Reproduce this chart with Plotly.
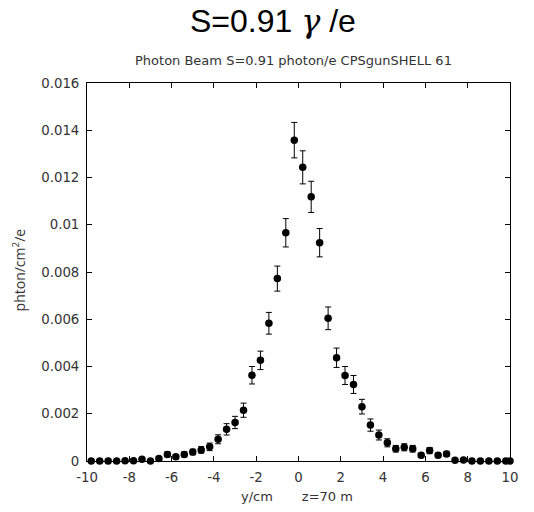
import plotly.graph_objects as go

# bin centres (cm)
y_cm = [-9.8, -9.4, -9.0, -8.6, -8.2, -7.8, -7.4, -7.0, -6.6, -6.2,
        -5.8, -5.4, -5.0, -4.6, -4.2, -3.8, -3.4, -3.0, -2.6, -2.2,
        -1.8, -1.4, -1.0, -0.6, -0.2, 0.2, 0.6, 1.0, 1.4, 1.8,
        2.2, 2.6, 3.0, 3.4, 3.8, 4.2, 4.6, 5.0, 5.4, 5.8,
        6.2, 6.6, 7.0, 7.4, 7.8, 8.2, 8.6, 9.0, 9.4, 9.8, 10.0]

flux = [0.0, 0.0, 0.0, 0.0, 0.00001, 0.00001, 0.00007, 0.0, 0.00011, 0.00028,
        0.00018, 0.00028, 0.00038, 0.00047, 0.0006, 0.00092, 0.00134, 0.00163, 0.00215, 0.00363,
        0.00426, 0.00583, 0.00772, 0.00966, 0.01358, 0.01243, 0.01118, 0.00924, 0.00604, 0.00437,
        0.00362, 0.00324, 0.0023, 0.00152, 0.0011, 0.00077, 0.00052, 0.00058, 0.00052, 0.00024,
        0.00044, 0.00024, 0.0003, 0.00003, 0.00004, 0.0, 0.0, 0.0, 0.0, 0.0, 0.0]

flux_err = [0.0, 0.0, 0.0, 0.0, 0.00002, 0.00002, 0.00005, 0.0, 0.00007, 0.00011,
            0.00009, 0.00011, 0.00012, 0.00014, 0.00016, 0.00019, 0.00024, 0.00026, 0.0003, 0.00037,
            0.00039, 0.00046, 0.00053, 0.0006, 0.00075, 0.0007, 0.00066, 0.0006, 0.00048, 0.00041,
            0.00038, 0.00038, 0.00031, 0.00026, 0.00021, 0.00017, 0.00014, 0.00015, 0.00014, 0.0001,
            0.00013, 0.0001, 0.00011, 0.00003, 0.00004, 0.0, 0.0, 0.0, 0.0, 0.0, 0.0]

x_ticks = [-10, -8, -6, -4, -2, 0, 2, 4, 6, 8, 10]
x_tick_text = ["-10", "-8", "-6", "-4", "-2", "0", "2", "4", "6", "8", "10"]
y_ticks = [0, 0.002, 0.004, 0.006, 0.008, 0.01, 0.012, 0.014, 0.016]
y_tick_text = ["0", "0.002", "0.004", "0.006", "0.008", "0.01", "0.012", "0.014", "0.016"]

fig = go.Figure()
fig.add_trace(go.Scatter(
    x=y_cm, y=flux, mode="markers",
    marker=dict(color="black", size=7.5, symbol="circle"),
    error_y=dict(type="data", array=flux_err, color="black", thickness=1, width=3),
    cliponaxis=False, showlegend=False,
))

tickfont = dict(family="DejaVu Sans", size=13.3, color="#333333")
axis_common = dict(
    showline=True, linecolor="black", linewidth=1, mirror="ticks",
    ticks="inside", ticklen=5, tickcolor="black", tickwidth=1,
    showgrid=False, zeroline=False, tickfont=tickfont,
)

fig.update_layout(
    width=534, height=512,
    margin=dict(l=87, r=24, t=83, b=51),
    paper_bgcolor="white", plot_bgcolor="white",
    xaxis=dict(range=[-10, 10], tickvals=x_ticks, ticktext=x_tick_text,
               ticklabelstandoff=4, **axis_common),
    yaxis=dict(range=[0, 0.016], tickvals=y_ticks, ticktext=y_tick_text,
               ticklabelstandoff=4, **axis_common),
    annotations=[
        dict(text="S=0.91 <span style=\"font-family:'DejaVu Serif';font-style:italic\">γ</span> /e",
             xref="paper", yref="paper", x=0.44, y=1.163, xanchor="center", yanchor="middle",
             showarrow=False, font=dict(family="Liberation Sans", size=32, color="black")),
        dict(text="Photon Beam S=0.91 photon/e CPSgunSHELL 61",
             xref="paper", yref="paper", x=0.489, y=1.06, xanchor="center", yanchor="middle",
             showarrow=False, font=dict(family="DejaVu Sans", size=13, color="#333333")),
        dict(text="y/cm       z=70 m",
             xref="paper", yref="paper", x=0.496, y=-0.095, xanchor="center", yanchor="middle",
             showarrow=False, font=dict(family="DejaVu Sans", size=13, color="#333333")),
        dict(text="phton/cm<sup>2</sup>/e", textangle=-90,
             xref="paper", yref="paper", x=-0.16, y=0.505, xanchor="center", yanchor="middle",
             showarrow=False, font=dict(family="Open Sans", size=14, color="#333333")),
    ],
)

fig.write_html("out.html")
